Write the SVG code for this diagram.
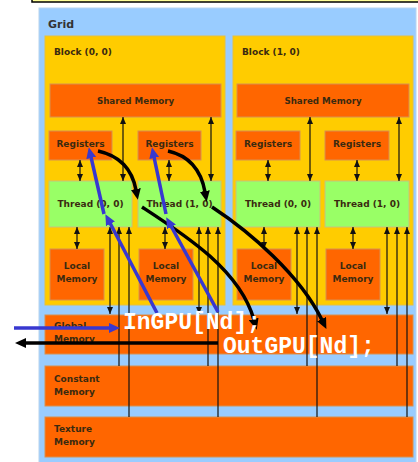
<svg xmlns="http://www.w3.org/2000/svg" width="418" height="462" viewBox="0 0 418 462">
  <style>
    .grid { fill: #99ccff; stroke: #b8d4ee; stroke-width: 1; }
    .block { fill: #ffcc00; stroke: #e6c040; stroke-width: 1; }
    .mem { fill: #ff6600; stroke: #d89050; stroke-width: 1; }
    .thread { fill: #99ff66; stroke: #c8c080; stroke-width: 1; }
    .lbl { font-family: "DejaVu Sans", Verdana, sans-serif; font-weight: bold; font-size: 9px; fill: #3a2a10; }
    .title { font-size: 11px; fill: #333; }
    .mid { text-anchor: middle; }
    .code { font-family: "Liberation Mono", "Courier New", monospace; font-weight: bold; font-size: 23px; fill: #ffffff; }
    .thin { stroke: #111; stroke-width: 1.2; fill: none; }
    .flow { stroke: #000; stroke-width: 3.5; fill: none; }
    .copy { stroke: #3838d0; stroke-width: 3.5; fill: none; }
  </style>
  <defs>
    <marker id="ah" markerUnits="userSpaceOnUse" markerWidth="7" markerHeight="6" viewBox="0 0 7 6" refX="7" refY="3" orient="auto-start-reverse">
      <path d="M0,0 L7,3 L0,6 z" fill="#111"/>
    </marker>
    <marker id="headK" markerUnits="userSpaceOnUse" markerWidth="11" markerHeight="10" viewBox="0 0 11 10" refX="1" refY="5" orient="auto">
      <path d="M0,0 L11,5 L0,10 z" fill="#000"/>
    </marker>
    <marker id="headB" markerUnits="userSpaceOnUse" markerWidth="11" markerHeight="10" viewBox="0 0 11 10" refX="1" refY="5" orient="auto">
      <path d="M0,0 L11,5 L0,10 z" fill="#3838d0"/>
    </marker>
  </defs>

  <rect width="418" height="462" fill="#ffffff"/>
  <!-- code strip above the grid -->
  <rect x="32" y="-6" width="400" height="8" fill="#ffff99" stroke="#000" stroke-width="1.5"/>

  <g id="grid">
    <rect class="grid" x="39" y="8" width="377" height="460"/>
    <text class="lbl title" x="48" y="28">Grid</text>
  </g>

  <g id="block-0-0">
    <rect class="block" x="45" y="36" width="180" height="269"/>
    <text class="lbl" x="54" y="55">Block (0, 0)</text>
  </g>
  <g id="block-1-0">
    <rect class="block" x="233" y="36" width="180" height="269"/>
    <text class="lbl" x="242" y="55">Block (1, 0)</text>
  </g>

  <g id="shared-memory-0">
    <rect class="mem" x="50" y="84" width="171" height="33"/>
    <text class="lbl mid" x="135.5" y="104" style="font-size:8.7px">Shared Memory</text>
  </g>
  <g id="shared-memory-1">
    <rect class="mem" x="237" y="84" width="172" height="33"/>
    <text class="lbl mid" x="323" y="104" style="font-size:8.7px">Shared Memory</text>
  </g>

  <g id="registers-0-0">
    <rect class="mem" x="49" y="131" width="63" height="29"/>
    <text class="lbl mid" x="80.5" y="146.5">Registers</text>
  </g>
  <g id="registers-0-1">
    <rect class="mem" x="138" y="131" width="63" height="29"/>
    <text class="lbl mid" x="169.5" y="146.5">Registers</text>
  </g>
  <g id="registers-1-0">
    <rect class="mem" x="236" y="131" width="64" height="29"/>
    <text class="lbl mid" x="268" y="146.5">Registers</text>
  </g>
  <g id="registers-1-1">
    <rect class="mem" x="325" y="131" width="64" height="29"/>
    <text class="lbl mid" x="357" y="146.5">Registers</text>
  </g>

  <g id="thread-0-0">
    <rect class="thread" x="49" y="181" width="83" height="46"/>
    <text class="lbl mid" x="90.5" y="206.5">Thread (0, 0)</text>
  </g>
  <g id="thread-0-1">
    <rect class="thread" x="138" y="181" width="83" height="46"/>
    <text class="lbl mid" x="179.5" y="206.5">Thread (1, 0)</text>
  </g>
  <g id="thread-1-0">
    <rect class="thread" x="236" y="181" width="84" height="46"/>
    <text class="lbl mid" x="278" y="206.5">Thread (0, 0)</text>
  </g>
  <g id="thread-1-1">
    <rect class="thread" x="325" y="181" width="84" height="46"/>
    <text class="lbl mid" x="367" y="206.5">Thread (1, 0)</text>
  </g>

  <g id="local-memory-0-0">
    <rect class="mem" x="50" y="249" width="54" height="51"/>
    <text class="lbl mid" x="77" y="269">Local</text>
    <text class="lbl mid" x="77" y="282">Memory</text>
  </g>
  <g id="local-memory-0-1">
    <rect class="mem" x="139" y="249" width="54" height="51"/>
    <text class="lbl mid" x="166" y="269">Local</text>
    <text class="lbl mid" x="166" y="282">Memory</text>
  </g>
  <g id="local-memory-1-0">
    <rect class="mem" x="237" y="249" width="54" height="51"/>
    <text class="lbl mid" x="264" y="269">Local</text>
    <text class="lbl mid" x="264" y="282">Memory</text>
  </g>
  <g id="local-memory-1-1">
    <rect class="mem" x="326" y="249" width="54" height="51"/>
    <text class="lbl mid" x="353" y="269">Local</text>
    <text class="lbl mid" x="353" y="282">Memory</text>
  </g>

  <g id="global-memory">
    <rect class="mem" x="45" y="315" width="368" height="39"/>
    <text class="lbl" x="54" y="329">Global</text>
    <text class="lbl" x="54" y="342">Memory</text>
  </g>
  <g id="constant-memory">
    <rect class="mem" x="45" y="366" width="368" height="40"/>
    <text class="lbl" x="54" y="382">Constant</text>
    <text class="lbl" x="54" y="395">Memory</text>
  </g>
  <g id="texture-memory">
    <rect class="mem" x="45" y="417" width="368" height="40"/>
    <text class="lbl" x="54" y="432">Texture</text>
    <text class="lbl" x="54" y="445">Memory</text>
  </g>

  <g id="connectors">
    <!-- shared memory <-> threads -->
    <line class="thin" x1="123" y1="117" x2="123" y2="181" marker-start="url(#ah)" marker-end="url(#ah)"/>
    <line class="thin" x1="211" y1="117" x2="211" y2="181" marker-start="url(#ah)" marker-end="url(#ah)"/>
    <line class="thin" x1="310" y1="117" x2="310" y2="181" marker-start="url(#ah)" marker-end="url(#ah)"/>
    <line class="thin" x1="399" y1="117" x2="399" y2="181" marker-start="url(#ah)" marker-end="url(#ah)"/>
    <!-- registers <-> threads -->
    <line class="thin" x1="80" y1="160" x2="80" y2="181" marker-start="url(#ah)" marker-end="url(#ah)"/>
    <line class="thin" x1="169" y1="160" x2="169" y2="181" marker-start="url(#ah)" marker-end="url(#ah)"/>
    <line class="thin" x1="268" y1="160" x2="268" y2="181" marker-start="url(#ah)" marker-end="url(#ah)"/>
    <line class="thin" x1="357" y1="160" x2="357" y2="181" marker-start="url(#ah)" marker-end="url(#ah)"/>
    <!-- threads <-> local memory -->
    <line class="thin" x1="77" y1="227" x2="77" y2="249" marker-start="url(#ah)" marker-end="url(#ah)"/>
    <line class="thin" x1="165" y1="227" x2="165" y2="249" marker-start="url(#ah)" marker-end="url(#ah)"/>
    <line class="thin" x1="264" y1="227" x2="264" y2="249" marker-start="url(#ah)" marker-end="url(#ah)"/>
    <line class="thin" x1="353" y1="227" x2="353" y2="249" marker-start="url(#ah)" marker-end="url(#ah)"/>
    <!-- threads <-> global memory -->
    <line class="thin" x1="110" y1="227" x2="110" y2="314" marker-start="url(#ah)" marker-end="url(#ah)"/>
    <line class="thin" x1="199" y1="227" x2="199" y2="314" marker-start="url(#ah)" marker-end="url(#ah)"/>
    <line class="thin" x1="297" y1="227" x2="297" y2="314" marker-start="url(#ah)" marker-end="url(#ah)"/>
    <line class="thin" x1="387" y1="227" x2="387" y2="314" marker-start="url(#ah)" marker-end="url(#ah)"/>
    <!-- constant memory -> threads -->
    <line class="thin" x1="119" y1="366" x2="119" y2="227" marker-end="url(#ah)"/>
    <line class="thin" x1="208" y1="366" x2="208" y2="227" marker-end="url(#ah)"/>
    <line class="thin" x1="307" y1="366" x2="307" y2="227" marker-end="url(#ah)"/>
    <line class="thin" x1="397" y1="366" x2="397" y2="227" marker-end="url(#ah)"/>
    <!-- texture memory -> threads -->
    <line class="thin" x1="129" y1="417" x2="129" y2="227" marker-end="url(#ah)"/>
    <line class="thin" x1="218" y1="417" x2="218" y2="227" marker-end="url(#ah)"/>
    <line class="thin" x1="317" y1="417" x2="317" y2="227" marker-end="url(#ah)"/>
    <line class="thin" x1="407" y1="417" x2="407" y2="227" marker-end="url(#ah)"/>

    <!-- data path: registers -> thread -> global memory -->
    <path class="flow" d="M98,151 Q130,158 136,190" marker-end="url(#headK)"/>
    <path class="flow" d="M168,151 Q199,158 205,192" marker-end="url(#headK)"/>
    <path class="flow" d="M142,207 C185,235 240,270 254,320" marker-end="url(#headK)"/>
    <path class="flow" d="M212,207 C250,232 300,275 322,320" marker-end="url(#headK)"/>

    <!-- input path: global memory -> thread -> registers -->
    <line class="copy" x1="157" y1="313" x2="110" y2="223" marker-end="url(#headB)"/>
    <line class="copy" x1="104" y1="214" x2="91" y2="157" marker-end="url(#headB)"/>
    <line class="copy" x1="218" y1="312" x2="171" y2="226" marker-end="url(#headB)"/>
    <line class="copy" x1="166" y1="214" x2="154" y2="157" marker-end="url(#headB)"/>

    <!-- host transfers -->
    <line class="copy" x1="14" y1="328" x2="110" y2="328" marker-end="url(#headB)"/>
    <line class="flow" x1="218" y1="343" x2="25" y2="343" marker-end="url(#headK)"/>
  </g>

  <g id="arrays">
    <text class="code" x="123" y="329">InGPU[Nd];</text>
    <text class="code" x="223" y="353">OutGPU[Nd];</text>
  </g>
</svg>
